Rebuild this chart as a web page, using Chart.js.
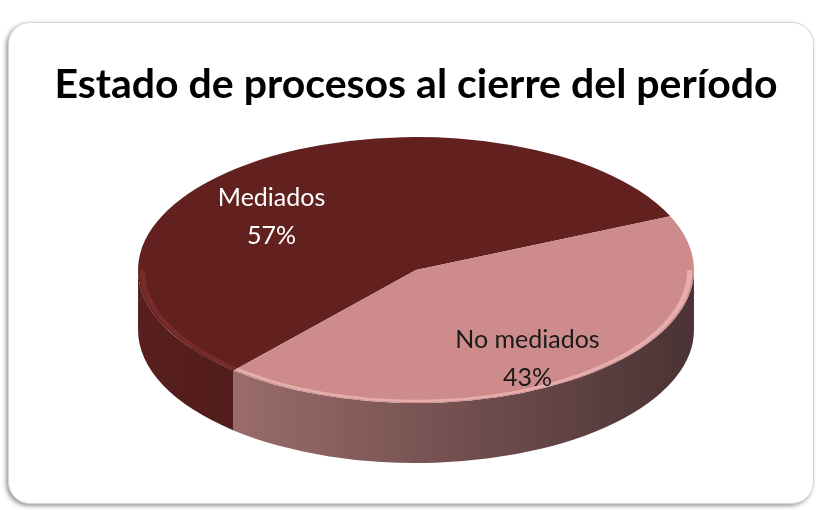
<!DOCTYPE html>
<html>
<head>
<meta charset="utf-8">
<script src="https://cdn.jsdelivr.net/npm/chart.js@4.4.1/dist/chart.umd.min.js"></script>
<style>
  body { margin: 0; background: #fff; }
  #marco {
    position: absolute; left: 8px; top: 22px; width: 804px; height: 480px;
    border-radius: 22px; border: 1px solid #d6d6d6;
    box-shadow: -2px 2px 4px rgba(0, 0, 0, 0.4);
    background: #fff;
  }
  #grafico { position: absolute; left: 0; top: 0; }
</style>
</head>
<body>
<div id="marco"></div>
<canvas id="grafico" width="820" height="510"></canvas>
<script>
const titulo = 'Estado de procesos al cierre del período';
const categorias = ['Mediados', 'No mediados'];
const valores = [57, 43];

// colores de la cara superior y del canto de cada porción
const coloresCara = ['#62201f', '#cd8b8b'];
const coloresCanto = [
    [[0, '#581f1e'], [0.3, '#4e1b1a'], [1, '#3e1616']],
    [[0, '#a87676'], [0.14, '#9d6e6e'], [0.55, '#765151'], [1, '#4a3334']]
];
const coloresBrillo = ['rgba(140, 55, 53, 0.5)', 'rgba(240, 185, 185, 0.75)'];
const coloresTexto = ['#ffffff', '#1a1a1a'];
// corrimiento de cada etiqueta respecto de su punto sobre la bisectriz
const ajusteEtiquetas = [[-29, 22], [-4, 14]];

const ESCALA_X = 2.09;   // achatamiento del pastel
const PROFUNDIDAD = 60;  // alto del canto
const FRACCION = 0.7;    // distancia de las etiquetas al centro

function aplicarEscala(ctx, arco) {
    ctx.translate(arco.x, arco.y);
    ctx.scale(ESCALA_X, 1);
    ctx.translate(-arco.x, -arco.y);
}

// tramos de la porción que caen en la mitad delantera (0..PI)
function tramosFrontales(inicio, fin) {
    const dosPi = Math.PI * 2;
    let s = inicio % dosPi;
    if (s < 0) s += dosPi;
    const e = s + (fin - inicio);
    const tramos = [];
    for (let k = 0; k < 2; k++) {
        const lo = Math.max(s, k * dosPi);
        const hi = Math.min(e, k * dosPi + Math.PI);
        if (hi > lo) tramos.push([lo, hi]);
    }
    return tramos;
}

const pastel3d = {
    id: 'pastel3d',
    beforeDatasetsDraw(chart) {
        const ctx = chart.ctx;
        const arcos = chart.getDatasetMeta(0).data;
        ctx.save();
        aplicarEscala(ctx, arcos[0]);
        arcos.forEach((arco, i) => {
            const r = arco.outerRadius;
            const grad = ctx.createLinearGradient(arco.x - r, 0, arco.x + r, 0);
            coloresCanto[i].forEach(p => grad.addColorStop(p[0], p[1]));
            ctx.fillStyle = grad;
            tramosFrontales(arco.startAngle, arco.endAngle).forEach(([lo, hi]) => {
                ctx.beginPath();
                ctx.arc(arco.x, arco.y, r, lo, hi);
                ctx.arc(arco.x, arco.y + PROFUNDIDAD, r, hi, lo, true);
                ctx.closePath();
                ctx.fill();
            });
        });
    },
    afterDatasetsDraw(chart) {
        const ctx = chart.ctx;
        const arcos = chart.getDatasetMeta(0).data;
        // brillo en el borde delantero de la cara superior
        arcos.forEach((arco, i) => {
            ctx.strokeStyle = coloresBrillo[i];
            ctx.lineWidth = 2.5;
            tramosFrontales(arco.startAngle, arco.endAngle).forEach(([lo, hi]) => {
                ctx.beginPath();
                ctx.arc(arco.x, arco.y, arco.outerRadius - 2, lo, hi);
                ctx.stroke();
            });
        });
        ctx.restore();

        // etiquetas con categoría y porcentaje
        const total = valores.reduce((a, b) => a + b, 0);
        ctx.save();
        ctx.font = '25px Lato';
        ctx.textAlign = 'center';
        ctx.textBaseline = 'middle';
        arcos.forEach((arco, i) => {
            const medio = (arco.startAngle + arco.endAngle) / 2;
            const px = arco.x + Math.cos(medio) * arco.outerRadius * FRACCION * ESCALA_X + ajusteEtiquetas[i][0];
            const py = arco.y + Math.sin(medio) * arco.outerRadius * FRACCION + ajusteEtiquetas[i][1];
            ctx.fillStyle = coloresTexto[i];
            ctx.fillText(categorias[i], px, py - 19);
            ctx.fillText(Math.round(valores[i] / total * 100) + '%', px, py + 19);
        });
        ctx.restore();
    }
};

new Chart(document.getElementById('grafico'), {
    type: 'pie',
    data: {
        labels: categorias,
        datasets: [{
            data: valores,
            backgroundColor: coloresCara,
            borderWidth: 0,
            hoverOffset: 0,
            clip: false
        }]
    },
    options: {
        responsive: false,
        animation: false,
        events: [],
        rotation: -139,
        layout: { padding: { top: 0, bottom: 107, left: 40, right: 28 } },
        plugins: {
            legend: { display: false },
            tooltip: { enabled: false },
            title: {
                display: true,
                text: titulo,
                color: '#000',
                font: { family: 'Lato', size: 41, weight: 'bold', lineHeight: 1.2 },
                padding: { top: 60.4, bottom: 27.4 }
            }
        }
    },
    plugins: [pastel3d]
});
</script>
</body>
</html>
